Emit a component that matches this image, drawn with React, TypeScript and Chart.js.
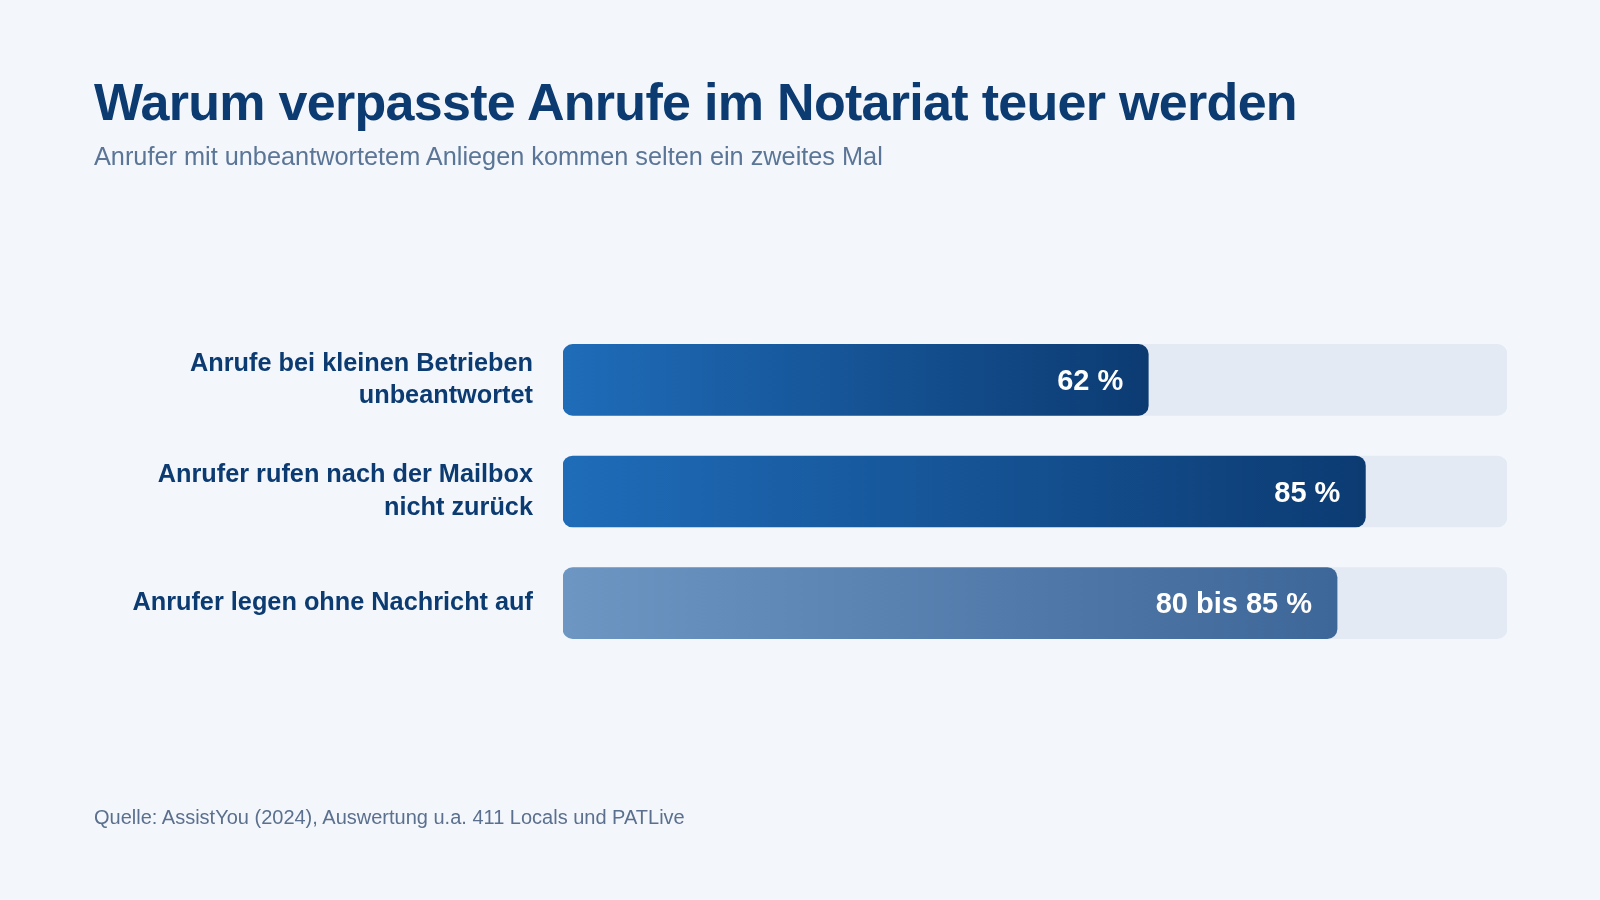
import React, { useEffect, useRef } from "react";
import { Chart, registerables } from "chart.js";

Chart.register(...registerables);

const categories: string[][] = [
  ["Anrufe bei kleinen Betrieben", "unbeantwortet"],
  ["Anrufer rufen nach der Mailbox", "nicht zurück"],
  ["Anrufer legen ohne Nachricht auf"],
];
const values: number[] = [62, 85, 82];
const valueLabels: string[] = ["62 %", "85 %", "80 bis 85 %"];
const trackValues: number[] = [100, 100, 100];
const gradientStops: [string, string][] = [
  ["#1f6cb9", "#0c3b72"],
  ["#1f6cb9", "#0c3b72"],
  ["#6d96c3", "#3e6799"],
];

const FONT = '"Liberation Sans", Arial, Helvetica, sans-serif';

const valueLabelPlugin = {
  id: "valueLabels",
  afterDatasetsDraw(chart: any) {
    const meta = chart.getDatasetMeta(0);
    const ctx = chart.ctx;
    ctx.save();
    ctx.font = `bold 29px ${FONT}`;
    ctx.fillStyle = "#ffffff";
    ctx.textAlign = "right";
    ctx.textBaseline = "middle";
    meta.data.forEach((bar: any, i: number) => {
      ctx.fillText(valueLabels[i], bar.x - 25, bar.y + 2);
    });
    ctx.restore();
  },
};

export default function App() {
  const canvasRef = useRef<HTMLCanvasElement | null>(null);

  useEffect(() => {
    document.body.style.margin = "0";
    const canvas = canvasRef.current;
    if (!canvas) return;
    const chart = new Chart(canvas, {
      type: "bar",
      data: {
        labels: categories,
        datasets: [
          {
            data: values,
            backgroundColor: (c: any) => {
              const ch = c.chart;
              const x = ch.scales?.x;
              const i = c.dataIndex;
              if (!x || i === undefined || !gradientStops[i]) return gradientStops[0][1];
              const x0 = x.getPixelForValue(0);
              const x1 = x.getPixelForValue(values[i]);
              if (!isFinite(x0) || !isFinite(x1) || x1 <= x0) return gradientStops[i][1];
              const g = ch.ctx.createLinearGradient(x0, 0, x1, 0);
              g.addColorStop(0, gradientStops[i][0]);
              g.addColorStop(1, gradientStops[i][1]);
              return g;
            },
            borderRadius: 10,
            borderSkipped: false,
            barThickness: 71,
            grouped: false,
          } as any,
          {
            data: trackValues,
            backgroundColor: "#e3eaf3",
            borderRadius: 10,
            borderSkipped: false,
            barThickness: 71,
            grouped: false,
          } as any,
        ],
      },
      options: {
        indexAxis: "y",
        animation: false,
        responsive: false,
        maintainAspectRatio: false,
        layout: { padding: { left: 0, right: 93, top: 324, bottom: 241 } },
        plugins: {
          legend: { display: false },
          tooltip: { enabled: false },
          title: { display: false },
        },
        events: [],
        scales: {
          x: { display: false, min: 0, max: 100 },
          y: {
            afterFit: (s: any) => {
              s.width = 563;
            },
            grid: { display: false, drawTicks: false },
            border: { display: false },
            ticks: {
              padding: 30,
              color: "#0c3b72",
              font: { family: FONT, size: 25.3, weight: "bold", lineHeight: 1.27 },
            },
          },
        },
      } as any,
      plugins: [valueLabelPlugin],
    });
    return () => chart.destroy();
  }, []);

  return (
    <div
      style={{
        position: "fixed",
        left: 0,
        top: 0,
        width: 1600,
        height: 900,
        background: "#f3f7fb",
        fontFamily: FONT,
        overflow: "hidden",
      }}
    >
      <canvas
        ref={canvasRef}
        width={1600}
        height={900}
        style={{ position: "absolute", left: 0, top: 0, width: 1600, height: 900 }}
      />
      <div
        style={{
          position: "absolute",
          left: 94,
          top: 76,
          fontSize: 52,
          lineHeight: "52px",
          fontWeight: "bold",
          letterSpacing: "-0.7px",
          color: "#0c3b72",
          whiteSpace: "nowrap",
        }}
      >
        Warum verpasste Anrufe im Notariat teuer werden
      </div>
      <div
        style={{
          position: "absolute",
          left: 94,
          top: 144,
          fontSize: 25.3,
          lineHeight: "25px",
          color: "#5b7597",
          whiteSpace: "nowrap",
        }}
      >
        Anrufer mit unbeantwortetem Anliegen kommen selten ein zweites Mal
      </div>
      <div
        style={{
          position: "absolute",
          left: 94,
          top: 807,
          fontSize: 20,
          lineHeight: "20px",
          color: "#5b6f8e",
          whiteSpace: "nowrap",
        }}
      >
        Quelle: AssistYou (2024), Auswertung u.a. 411 Locals und PATLive
      </div>
    </div>
  );
}
